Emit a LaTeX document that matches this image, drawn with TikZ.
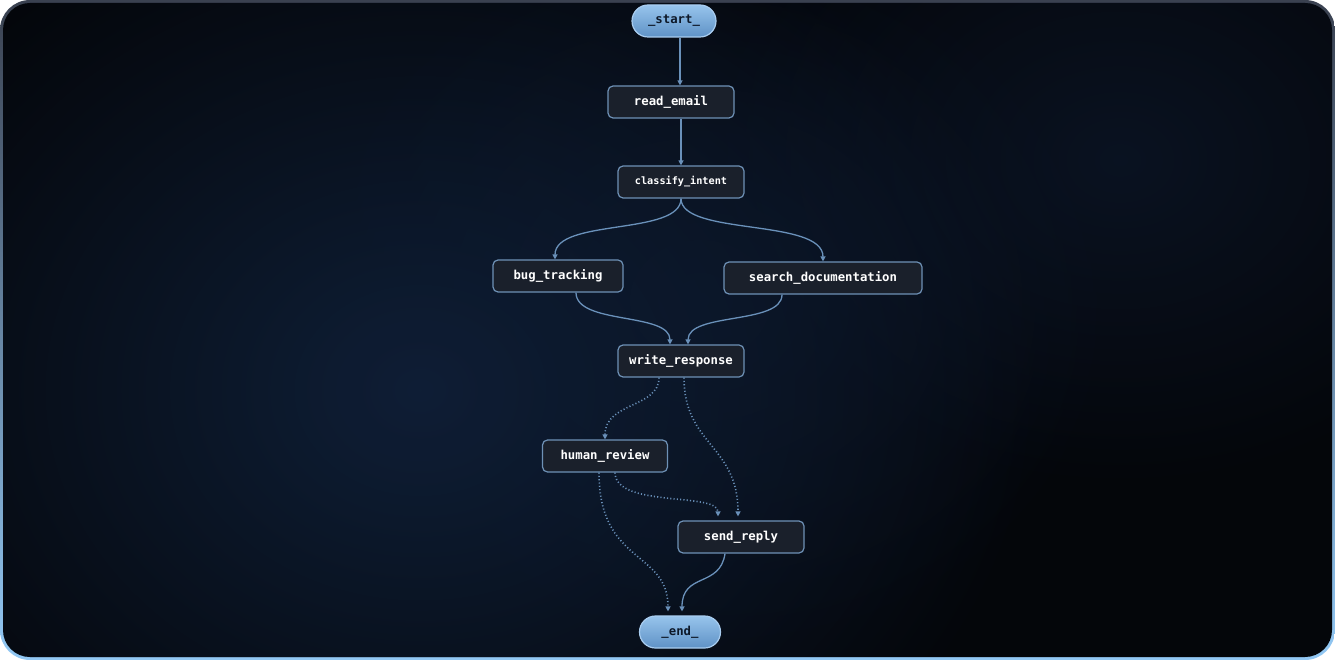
\documentclass[tikz,border=0pt]{standalone}
\usepackage{fontspec}
\setmonofont{DejaVu Sans Mono}
\usetikzlibrary{arrows.meta,calc,fadings}
\tikzfading[name=myglow, inner color=transparent!0, outer color=transparent!100]
\definecolor{bgdark}{HTML}{04060A}
\definecolor{glow}{HTML}{0F1F37}
\definecolor{glowb}{HTML}{0E1B31}
\definecolor{frametop}{HTML}{3A4150}
\definecolor{framebot}{HTML}{92C8F4}
\definecolor{nodefill}{HTML}{1A202B}
\definecolor{nodeline}{HTML}{6E91B6}
\definecolor{edgec}{HTML}{6A91BA}
\definecolor{termtop}{HTML}{97C4EC}
\definecolor{termbot}{HTML}{5F92C6}
\definecolor{termline}{HTML}{A9CDF0}
\definecolor{termtext}{HTML}{0D1828}
\tikzset{
  box/.style={draw=nodeline, line width=1.2pt, fill=nodefill, rounded corners=5pt,
    text=white, font=\ttfamily\bfseries\fontsize{12.3}{13}\selectfont,
    minimum height=32pt, inner sep=0pt},
  term/.style={draw=termline, line width=1.2pt, top color=termtop, bottom color=termbot,
    rounded corners=16pt, text=termtext, font=\ttfamily\bfseries\fontsize{12.3}{13}\selectfont,
    minimum height=32pt, inner sep=0pt},
  edge/.style={draw=edgec, line width=1.3pt, -{Triangle[length=5pt,width=5pt]}},
  dotedge/.style={edge, line width=1.6pt, dash pattern=on 1.1pt off 2.2pt},
}
\begin{document}
\begin{tikzpicture}[x=1pt,y=-1pt]
\useasboundingbox (0,0) rectangle (1335,660);
\fill[white] (0,0) rectangle (1335,660);
\shade[top color=frametop, bottom color=framebot, rounded corners=30pt] (0,0) rectangle (1335,660);
\begin{scope}
\clip[rounded corners=27pt] (3,3) rectangle (1332,657);
\fill[bgdark] (0,0) rectangle (1335,660);
\fill[glow, path fading=myglow] (420,390) ellipse (620 and 520);
\fill[glowb, path fading=myglow, opacity=0.6] (1120,160) ellipse (420 and 330);
\fill[glowb, path fading=myglow, opacity=0.6] (700,300) ellipse (420 and 360);
\end{scope}

\node[term, minimum width=84pt] (start) at (674,21) {\_start\_};
\node[box, minimum width=126pt] (read) at (671,102) {read\_email};
\node[box, minimum width=126pt, font=\ttfamily\bfseries\fontsize{10.2}{12}\selectfont] (cls) at (681,182) {classify\_intent};
\node[box, minimum width=130pt] (bug) at (558,276) {bug\_tracking};
\node[box, minimum width=198pt] (search) at (823,278) {search\_documentation};
\node[box, minimum width=126pt] (write) at (681,361) {write\_response};
\node[box, minimum width=125pt] (human) at (605,456) {human\_review};
\node[box, minimum width=126pt] (send) at (741,537) {send\_reply};
\node[term, minimum width=81pt] (end) at (680,632) {\_end\_};

\draw[edge] ([xshift=6pt]start.south) -- ([xshift=9pt]read.north);
\draw[edge] ([xshift=0pt]read.south -| cls.south) -- (cls.north);
\draw[edge] (cls.south) .. controls (681,236) and (555,218) .. ([xshift=-3pt]bug.north);
\draw[edge] (cls.south) .. controls (681,236) and (823,218) .. (search.north);
\draw[edge] ([xshift=18pt]bug.south) .. controls (576,325) and (670,312) .. ([xshift=-11pt]write.north);
\draw[edge] ([xshift=-41pt]search.south) .. controls (782,325) and (688,312) .. ([xshift=7pt]write.north);
\draw[dotedge] ([xshift=-22pt]write.south) .. controls (659,408) and (605,402) .. (human.north);
\draw[dotedge] ([xshift=3pt]write.south) .. controls (684,445) and (738,445) .. ([xshift=-3pt,yshift=4pt]send.north);
\draw[dotedge] ([xshift=10pt]human.south) .. controls (615,508) and (718,492) .. ([xshift=-23pt,yshift=4pt]send.north);
\draw[dotedge] ([xshift=-6pt]human.south) .. controls (599,565) and (668,550) .. ([xshift=-12pt,yshift=4pt]end.north);
\draw[edge] ([xshift=-16pt]send.south) .. controls (720,588) and (682,572) .. ([xshift=2pt,yshift=4pt]end.north);
\end{tikzpicture}
\end{document}
